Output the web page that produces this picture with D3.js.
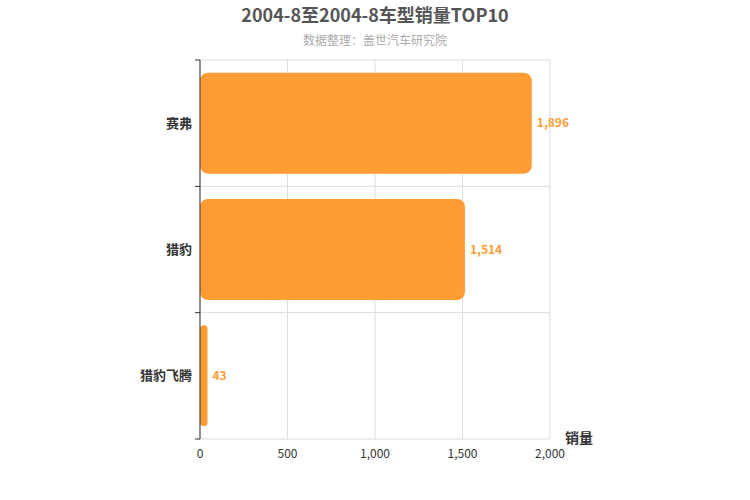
<!DOCTYPE html>
<html><head><meta charset="utf-8">
<script src="https://cdn.jsdelivr.net/npm/d3@7"></script>
<style>body{margin:0;background:#fff}text{font-family:"Noto Sans CJK SC","Liberation Sans",sans-serif}</style>
</head><body><svg id="c" width="750" height="500"></svg>
<script>
const categories=["赛弗","猎豹","猎豹飞腾"];
const values=[1896,1514,43];
const xTicks=[0,500,1000,1500,2000];
const title="2004-8至2004-8车型销量TOP10";
const subtitle="数据整理：盖世汽车研究院";
const axisName="销量";

const svg=d3.select("#c");
const L=200,R=550,T=60,B=439;
const x=d3.scaleLinear().domain([0,2000]).range([L,R]);
const y=d3.scaleBand().domain(categories).range([T,B]).paddingInner(0.2).paddingOuter(0.1);
const yb=d3.scaleBand().domain(categories).range([T,B]);

svg.append("text").attr("x",375).attr("y",22).attr("text-anchor","middle").attr("font-size",18).attr("font-weight","bold").attr("fill","#555").text(title);
svg.append("text").attr("x",375).attr("y",45).attr("text-anchor","middle").attr("font-size",12).attr("fill","#aaa").text(subtitle);

// grid
svg.append("g").selectAll("line").data(xTicks).join("line").attr("x1",d=>x(d)).attr("x2",d=>x(d)).attr("y1",T).attr("y2",B).attr("stroke","#ddd");
const bounds=categories.map(c=>yb(c)).concat([B]);
svg.append("g").selectAll("line").data(bounds).join("line").attr("x1",L).attr("x2",R).attr("y1",d=>d).attr("y2",d=>d).attr("stroke","#ddd");

// bars
svg.append("g").selectAll("rect").data(values).join("rect")
 .attr("x",x(0)).attr("y",(d,i)=>y(categories[i])).attr("width",d=>x(d)-x(0)).attr("height",y.bandwidth())
 .attr("rx",d=>Math.min(8,(x(d)-x(0))/2)).attr("fill","#ff9c33");
svg.append("g").selectAll("text").data(values).join("text")
 .attr("x",d=>x(d)+5).attr("y",(d,i)=>y(categories[i])+y.bandwidth()/2).attr("dy","0.35em")
 .attr("font-size",12).attr("font-weight","bold").attr("fill","#ff9c33").text(d=>d3.format(",")(d));

// left axis
svg.append("line").attr("x1",L).attr("x2",L).attr("y1",T).attr("y2",B).attr("stroke","#333");
svg.append("g").selectAll("line").data(bounds).join("line").attr("x1",L-5).attr("x2",L).attr("y1",d=>d).attr("y2",d=>d).attr("stroke","#333");
svg.append("g").selectAll("text").data(categories).join("text")
 .attr("x",L-8).attr("y",d=>yb(d)+yb.bandwidth()/2).attr("dy","0.35em").attr("text-anchor","end")
 .attr("font-size",13).attr("font-weight","bold").attr("fill","#333").text(d=>d);

// bottom axis labels
svg.append("g").selectAll("text").data(xTicks).join("text")
 .attr("x",d=>x(d)).attr("y",B+19).attr("text-anchor","middle").attr("font-size",12).attr("fill","#333").text(d=>d3.format(",")(d));
svg.append("text").attr("x",565).attr("y",443).attr("font-size",14).attr("font-weight","bold").attr("fill","#333").text(axisName);
</script></body></html>
